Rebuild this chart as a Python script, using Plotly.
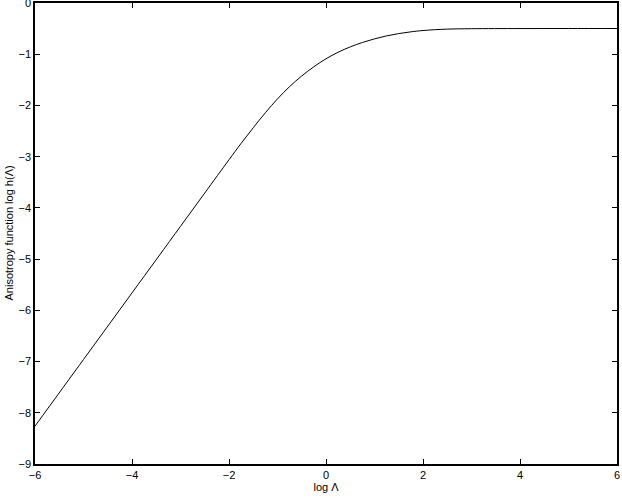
import plotly.graph_objects as go

log_lambda = [-6, -5, -4, -3, -2.5, -2, -1.75, -1.5, -1.25, -1, -0.75, -0.5, -0.25,
              0, 0.25, 0.5, 0.75, 1, 1.25, 1.5, 1.75, 2, 2.5, 3, 4, 5, 6]
log_h = [-8.26, -6.96, -5.66, -4.36, -3.71, -3.06, -2.74, -2.435, -2.142, -1.872, -1.632,
         -1.424, -1.244, -1.089, -0.961, -0.857, -0.771, -0.700, -0.642, -0.597, -0.563,
         -0.537, -0.510, -0.502, -0.499, -0.498, -0.498]
x_ticks = [-6, -4, -2, 0, 2, 4, 6]
y_ticks = [-9, -8, -7, -6, -5, -4, -3, -2, -1, 0]

fig = go.Figure()
fig.add_trace(go.Scatter(x=log_lambda, y=log_h, mode="lines",
                         line=dict(color="black", width=1, shape="spline", smoothing=1.0),
                         showlegend=False, hoverinfo="skip"))

font = dict(family="Liberation Sans, Arial, Helvetica, sans-serif", size=11, color="black")
axis_common = dict(showgrid=False, zeroline=False, showline=True, linecolor="black",
                   linewidth=1.5, mirror="ticks", ticks="inside", ticklen=5,
                   tickcolor="black", tickwidth=1, tickfont=font,
                   ticklabeloverflow="allow", automargin=False)

fig.update_xaxes(range=[-6, 6], tickvals=x_ticks, ticktext=[str(v).replace("-", "\u2212") for v in x_ticks],
                 title=dict(text="log \u039b", font=font, standoff=0),
                 **axis_common)
fig.update_yaxes(range=[-9, 0], tickvals=y_ticks, ticktext=[str(v).replace("-", "\u2212") for v in y_ticks],
                 **axis_common)

fig.add_annotation(text="Anisotropy function log h(\u039b)", textangle=-90, font=font,
                   xref="paper", yref="paper", x=0, y=0.5, xanchor="center", yanchor="middle",
                   xshift=-27, showarrow=False)

fig.update_layout(width=622, height=498, margin=dict(l=35, r=5, t=3, b=34, autoexpand=False),
                  plot_bgcolor="white", paper_bgcolor="white", font=font)

fig.write_html("out.html", config={"displayModeBar": False},
               post_script="document.body.style.margin='0';document.documentElement.style.overflow='hidden';")
